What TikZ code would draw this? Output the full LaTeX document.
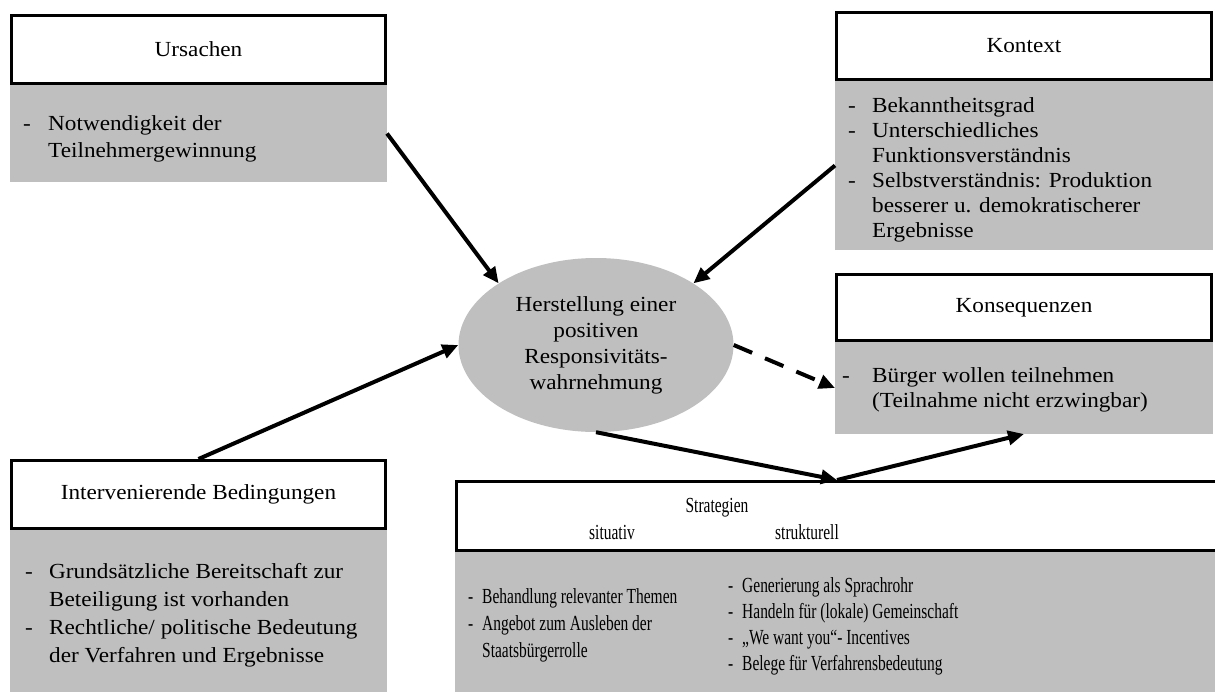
\documentclass[tikz,border=0pt]{standalone}
\usepackage{fontspec}
\setmainfont{Liberation Serif}[FakeStretch=1.08]
\newfontfamily\narrowrm{Liberation Serif}[FakeStretch=0.72]
\usetikzlibrary{arrows.meta,shapes.geometric}
\definecolor{BoxGray}{HTML}{BFBFBF}
\newcommand\dashlist[3]{\fontsize{21.5}{#1}\selectfont\begin{tabular}[t]{@{}p{#2}@{}l@{}}#3\end{tabular}}
\begin{document}
\begin{tikzpicture}[x=1pt,y=-1pt,
    body/.style={fill=BoxGray,inner sep=0pt,outer sep=0pt},
    head/.style={draw,line width=3pt,fill=white,inner sep=0pt,font=\fontsize{21.5}{26}\selectfont},
    txt/.style={anchor=base west,inner sep=0pt},
    lbl/.style={anchor=base,inner sep=0pt,font=\narrowrm\fontsize{21.5}{26}\selectfont},
    arr/.style={line width=4pt,-{Triangle[length=16pt,width=14pt]}}]
  \useasboundingbox(0,0)rectangle(1215,691);
  \node[body,minimum width=377pt,minimum height=97pt](ursbody)at(198.5,133.5){};
  \node[head,minimum width=374pt,minimum height=68pt](urshead)at(198.5,49.5){Ursachen};
  \node[txt](urslist)at(23,130){\dashlist{27pt}{25pt}{- & Notwendigkeit der\\ & Teilnehmergewinnung}};
  \node[body,minimum width=378pt,minimum height=169pt](kontbody)at(1024,165.5){};
  \node[head,minimum width=375pt,minimum height=67pt](konthead)at(1024,46){Kontext};
  \node[txt](kontlist)at(848,112){\dashlist{25pt}{24pt}{- & Bekanntheitsgrad\\- & Unterschiedliches\\ & Funktionsverständnis\\- & Selbstverständnis: Produktion\\ & besserer u. demokratischerer\\ & Ergebnisse}};
  \node[body,minimum width=378pt,minimum height=92pt](konsbody)at(1024,388){};
  \node[head,minimum width=375pt,minimum height=66pt](konshead)at(1024,307.5){Konsequenzen};
  \node[txt](konslist)at(842,382){\dashlist{25pt}{30pt}{- & Bürger wollen teilnehmen\\ & (Teilnahme nicht erzwingbar)}};
  \node[body,minimum width=377pt,minimum height=164pt](intvbody)at(198.5,612){};
  \node[head,minimum width=374pt,minimum height=68pt](intvhead)at(198.5,494.5){Intervenierende Bedingungen};
  \node[txt](intvlist)at(25,578){\dashlist{28pt}{24pt}{- & Grundsätzliche Bereitschaft zur\\ & Beteiligung ist vorhanden\\- & Rechtliche/ politische Bedeutung\\ & der Verfahren und Ergebnisse}};
  \node[body,minimum width=765pt,minimum height=142pt](stratbody)at(837.5,623){};
  \node[head,minimum width=761pt,minimum height=69pt](strathead)at(837,516){};
  \node[lbl](strattitle)at(717,512){Strategien};
  \node[lbl](sitlabel)at(612,539){situativ};
  \node[lbl](strulabel)at(807,539){strukturell};
  \node[txt,font=\narrowrm](sitlist)at(468,603){\dashlist{27pt}{14pt}{- & Behandlung relevanter Themen\\- & Angebot zum Ausleben der\\ & Staatsbürgerrolle}};
  \node[txt,font=\narrowrm](strulist)at(728,592){\dashlist{26pt}{14pt}{- & Generierung als Sprachrohr\\- & Handeln für (lokale) Gemeinschaft\\- & „We want you“- Incentives\\- & Belege für Verfahrensbedeutung}};
  \node[ellipse,fill=BoxGray,minimum width=275pt,minimum height=174pt,inner sep=0pt,align=center,
    font=\fontsize{21.5}{26}\selectfont](resp)at(596,345){Herstellung einer\\positiven\\Responsivitäts-\\wahrnehmung};
  \draw[arr](ursbody.east)--(resp.north west);
  \draw[arr](kontbody.west)--(resp.north east);
  \draw[arr](intvhead.north)--(resp.west);
  \draw[arr,dash pattern=on 20pt off 14pt](resp.east)--(konsbody.west);
  \draw[arr](resp.south)--(strathead.north);
  \draw[arr](strathead.north)--(konsbody.south);
\end{tikzpicture}
\end{document}
